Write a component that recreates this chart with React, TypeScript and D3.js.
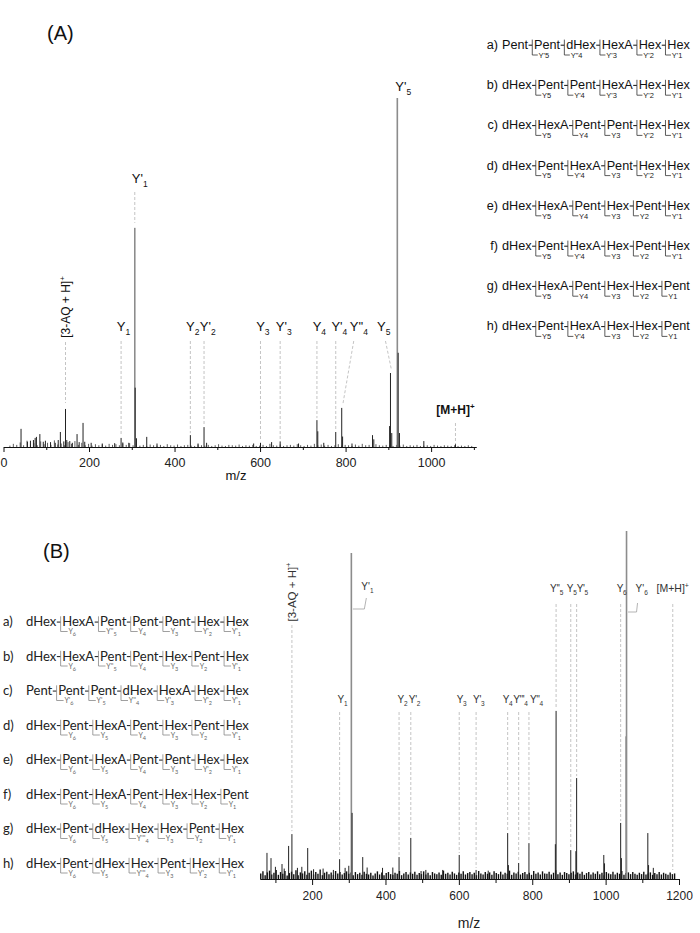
import React, { useEffect, useRef } from "react";
import * as d3 from "d3";

const ARIAL = "'Liberation Sans', Arial, Helvetica, sans-serif";
const LATO = "Lato, 'Liberation Sans', sans-serif";

// ---------- Panel A spectrum: [m/z, relative intensity %] ----------
const peaksA: [number, number][] = [
  [41, 5.2], [56, 1.5], [63, 1.8], [70, 2.0], [74, 2.6], [77, 2.9], [85, 3.7], [93, 1.5], [98, 1.8],
  [110, 1.4], [121, 1.2], [128, 2.0], [133, 4.3], [141, 1.6], [145, 10.9], [148, 2.0], [155, 1.7],
  [161, 1.2], [172, 3.7], [177, 1.4], [186, 6.9], [190, 1.5], [205, 1.2], [231, 1.0], [260, 1.1],
  [275, 2.6], [279, 1.3], [293, 1.2], [307, 62.8], [308, 17], [311, 2.5], [335, 2.9], [359, 1.0],
  [437, 3.4], [455, 1.0], [469, 5.7], [475, 1.2], [585, 1.0], [601, 1.2], [627, 1.4], [647, 1.6],
  [690, 1.0], [733, 7.7], [735, 4.5], [749, 1.2], [777, 4.3], [791, 11.2], [793, 3.0], [815, 1.0],
  [863, 3.4], [866, 2.2], [903, 6.0], [905, 21.2], [908, 4.0], [921, 100], [923, 27], [926, 4.0],
  [983, 1.7], [1057, 0.8],
];
const noiseAStart = 15;
const noiseAStep = 8;
const noiseA: number[] = [
  0.4, 0.9, 0.6, 1.3, 0.5, 1.8, 0.7, 1.1, 0.5, 1.6, 0.8, 1.2, 0.6, 1.9, 0.7, 1.0, 0.5, 1.4, 0.9, 1.7,
  0.6, 1.2, 0.5, 0.9, 0.4, 0.8, 0.5, 0.7, 0.4, 0.9, 0.6, 0.8, 0.5, 1.0, 0.6, 1.1,
  0.5, 0.8, 0.4, 0.6, 0.3, 0.7, 0.5, 0.4, 0.6, 0.3, 0.8, 0.5, 0.4, 0.7, 0.3, 0.5, 0.6, 0.4, 0.3, 0.7,
  0.5, 0.4, 0.6, 0.3, 0.5, 0.8, 0.4, 0.3, 0.6, 0.5, 0.4, 0.7, 0.3, 0.5, 0.4, 0.6, 0.3,
  0.4, 0.6, 0.3, 0.9, 0.5, 0.4, 0.7, 0.3, 0.5, 0.6, 0.4, 0.8, 0.5, 0.3, 0.6, 0.4, 0.9, 0.5, 0.7, 0.4,
  0.6, 0.3, 0.5, 0.8, 0.4, 0.6, 0.5, 0.3, 0.7, 0.4, 0.9, 0.5, 0.6, 0.4, 0.8, 0.5, 0.4, 0.6,
  0.5, 0.3, 0.6, 0.4, 0.7, 0.3, 0.5, 0.4, 0.6, 0.3, 0.4, 0.5, 0.3, 0.6, 0.4, 0.3, 0.5, 0.4, 0.3, 0.5,
  0.3, 0.4, 0.3, 0.5, 0.3,
];
const ticksA = [0, 200, 400, 600, 800, 1000];
const minorTicksA = [100, 300, 500, 700, 900, 1100];

// ---------- Panel B spectrum ----------
const peaksB: [number, number][] = [
  [77, 7.5], [88, 6.0], [100, 3.5], [118, 4.3], [124, 3.0], [136, 9.5], [145, 12.9], [160, 3.2],
  [172, 3.5], [188, 8.9], [204, 2.8], [230, 3.0], [258, 2.6], [275, 5.7], [290, 3.2], [300, 3.8],
  [307, 93.7], [309, 19], [338, 6.3], [350, 3.3], [392, 3.2], [420, 3.3], [437, 6.3], [469, 11.8],
  [497, 2.3], [510, 2.6], [556, 2.6], [601, 6.9], [647, 2.6], [680, 2.4], [733, 13.2], [735, 4.0],
  [763, 4.6], [791, 10.3], [863, 10], [865, 48.3], [905, 8.3], [919, 8.0], [921, 29], [995, 6.9],
  [997, 4.5], [1041, 16.1], [1043, 6.0], [1056, 41], [1057, 100], [1115, 13.2], [1117, 4.0], [1130, 3.2],
];
const noiseBStart = 60;
const noiseBStep = 6;
const noiseB: number[] = [
  1.6, 2.2, 1.1, 1.9, 2.4, 1.3, 1.8, 2.6, 1.2, 2.0,
  1.5, 2.3, 1.0, 1.7, 2.1, 1.4, 2.5, 1.1, 1.9, 1.6,
  2.2, 1.2, 1.8, 2.4, 1.3, 2.0, 1.5, 2.7, 1.1, 1.8,
  2.1, 1.4, 1.9, 1.2, 2.3, 1.6, 2.0, 1.3, 1.7, 2.2,
  1.5, 1.9, 1.1, 2.0, 1.4, 1.8, 1.2, 2.1, 1.5, 1.3,
  1.8, 1.0, 1.6, 2.2, 1.3, 1.9, 1.1, 1.7, 2.0, 1.4,
  1.2, 1.8, 1.5, 2.3, 1.1, 1.6, 2.0, 1.3, 1.9, 1.5,
  2.1, 1.2, 1.7, 1.4, 2.2, 1.3, 1.8, 1.1, 2.0, 1.6,
  1.4, 1.9, 1.2, 2.4, 1.5, 1.8, 1.3, 2.1, 1.6, 1.2,
  1.9, 1.5, 2.2, 1.3, 1.7, 2.0, 1.4, 1.8, 1.1, 2.3,
  1.6, 1.3, 2.0, 1.5, 1.9, 1.2, 2.2, 1.7, 1.4, 2.1,
  1.3, 1.8, 1.5, 2.4, 1.2, 1.9, 1.6, 2.1, 1.3, 1.7,
  2.0, 1.4, 1.8, 1.2, 2.3, 1.5, 1.9, 1.3, 2.2, 1.6,
  1.5, 2.1, 1.3, 1.8, 2.5, 1.4, 1.9, 1.2, 2.0, 1.7,
  1.4, 1.8, 2.2, 1.3, 1.9, 1.5, 2.1, 1.2, 1.7, 2.0,
  1.3, 1.9, 1.5, 2.2, 1.4, 1.8, 1.1, 2.0, 1.6, 1.4,
  2.1, 1.3, 1.8, 1.5, 2.3, 1.2, 1.7, 1.9, 1.4, 2.0,
  1.5, 1.2, 1.8, 1.4, 2.1, 1.3, 1.6, 1.9, 1.2, 1.7,
  1.4, 2.0, 1.3, 1.8, 1.5, 1.2, 1.9, 1.4, 1.6,
];
const ticksB = [200, 400, 600, 800, 1000, 1200];
const minorTicksB = [100, 300, 500, 700, 900, 1100];

// ---------- Fragment annotations ----------
const lowLabelsA = [
  { name: "Y_1", mz: 275 }, { name: "Y_2", mz: 437 }, { name: "Y'_2", mz: 469 },
  { name: "Y_3", mz: 601 }, { name: "Y'_3", mz: 647 }, { name: "Y_4", mz: 733 },
  { name: "Y'_4", mz: 777 },
];
const lowLabelsB = [
  { name: "Y_1", mz: 275 }, { name: "Y_2", mz: 437 }, { name: "Y'_2", mz: 469 },
  { name: "Y_3", mz: 601 }, { name: "Y'_3", mz: 647 }, { name: "Y_4", mz: 733 },
  { name: "Y'''_4", mz: 763 }, { name: "Y''_4", mz: 791 },
];
const highLabelsB = [
  { name: "Y''_5", mz: 865 }, { name: "Y_5", mz: 905 }, { name: "Y'_5", mz: 921 }, { name: "Y_6", mz: 1041 },
];
const precursorMzA = 1057;
const precursorMzB = 1183;
const aqMz = 145;

// ---------- Structures ----------
const lettersAB = ["a)", "b)", "c)", "d)", "e)", "f)", "g)", "h)"];
const seqA = [
  "Pent-Pent-dHex-HexA-Hex-Hex",
  "dHex-Pent-Pent-HexA-Hex-Hex",
  "dHex-HexA-Pent-Pent-Hex-Hex",
  "dHex-Pent-HexA-Pent-Hex-Hex",
  "dHex-HexA-Pent-Hex-Pent-Hex",
  "dHex-Pent-HexA-Hex-Pent-Hex",
  "dHex-HexA-Pent-Hex-Hex-Pent",
  "dHex-Pent-HexA-Hex-Hex-Pent",
];
const ionsA = [
  ["Y'5", "Y\"4", "Y'3", "Y'2", "Y'1"],
  ["Y5", "Y'4", "Y'3", "Y'2", "Y'1"],
  ["Y5", "Y4", "Y3", "Y'2", "Y'1"],
  ["Y5", "Y'4", "Y3", "Y'2", "Y'1"],
  ["Y5", "Y4", "Y3", "Y2", "Y'1"],
  ["Y5", "Y'4", "Y3", "Y2", "Y'1"],
  ["Y5", "Y4", "Y3", "Y2", "Y1"],
  ["Y5", "Y'4", "Y3", "Y2", "Y1"],
];
const seqB = [
  "dHex-HexA-Pent-Pent-Pent-Hex-Hex",
  "dHex-HexA-Pent-Pent-Hex-Pent-Hex",
  "Pent-Pent-Pent-dHex-HexA-Hex-Hex",
  "dHex-Pent-HexA-Pent-Hex-Pent-Hex",
  "dHex-Pent-HexA-Pent-Pent-Hex-Hex",
  "dHex-Pent-HexA-Pent-Hex-Hex-Pent",
  "dHex-Pent-dHex-Hex-Hex-Pent-Hex",
  "dHex-Pent-dHex-Hex-Pent-Hex-Hex",
];
const ionsB = [
  ["Y_6", "Y''_5", "Y_4", "Y_3", "Y'_2", "Y'_1"],
  ["Y_6", "Y''_5", "Y_4", "Y_3", "Y_2", "Y'_1"],
  ["Y'_6", "Y'_5", "Y''_4", "Y'_3", "Y'_2", "Y'_1"],
  ["Y_6", "Y_5", "Y_4", "Y_3", "Y_2", "Y'_1"],
  ["Y_6", "Y_5", "Y_4", "Y_3", "Y'_2", "Y'_1"],
  ["Y_6", "Y_5", "Y_4", "Y_3", "Y_2", "Y_1"],
  ["Y_6", "Y_5", "Y'''_4", "Y_3", "Y_2", "Y'_1"],
  ["Y_6", "Y_5", "Y'''_4", "Y_3", "Y'_2", "Y'_1"],
];

// label nudges (layout only, px relative to the peak position)
const nudgeB: Record<string, number> = {
  "Y_1": -2, "Y_2": -1.5, "Y'_2": -2, "Y_3": -2.5, "Y'_3": -3, "Y_4": -5, "Y'''_4": -5.5, "Y''_4": 1,
  "Y''_5": -6, "Y_5": -4, "Y'_5": 0, "Y_6": -4,
};

// ---------- helpers ----------
let measureCtx: CanvasRenderingContext2D | null = null;
function textWidth(t: string, size: number, family: string) {
  if (!measureCtx && typeof document !== "undefined") {
    measureCtx = document.createElement("canvas").getContext("2d");
  }
  if (!measureCtx) return t.length * size * 0.55;
  measureCtx.font = `${size}px ${family}`;
  return measureCtx.measureText(t).width;
}

function topOf(peaks: [number, number][], mz: number) {
  const near = peaks.filter((p) => Math.abs(p[0] - mz) <= 2);
  return near.length ? d3.max(near, (p) => p[1])! : 0;
}

function Ion({ name, x, y, size, sub, color, family, anchor = "start", weight = "normal", ls = 0 }: any) {
  let base = name, lo: string | null = null, hi: string | null = null;
  if (name.includes("_")) [base, lo] = name.split("_");
  if (name.includes("^")) [base, hi] = name.split("^");
  return (
    <text x={x} y={y} fontSize={size} fill={color} fontFamily={family} textAnchor={anchor} fontWeight={weight}
      letterSpacing={ls}>
      {base}
      {lo !== null && <tspan dy={size * 0.32} fontSize={sub}>{lo}</tspan>}
      {hi !== null && <tspan dy={-size * 0.38} fontSize={sub}>{hi}</tspan>}
    </text>
  );
}

function Axis({ scale, y, major, minor, size, pad, majorLen, minorLen }: any) {
  const ref = useRef<SVGGElement>(null);
  useEffect(() => {
    const g = d3.select(ref.current!);
    g.selectAll("*").remove();
    g.append("g").call(
      d3.axisBottom(scale).tickValues(minor).tickSize(minorLen).tickSizeOuter(0).tickFormat(() => "")
    );
    g.append("g").call(
      d3.axisBottom(scale).tickValues(major).tickSize(majorLen).tickSizeOuter(0).tickPadding(pad).tickFormat(d3.format("d"))
    );
    g.selectAll("path.domain").attr("stroke", "#111").attr("stroke-width", 1.1);
    g.selectAll(".tick line").attr("stroke", "#111").attr("stroke-width", 1);
    g.selectAll("text").attr("font-family", ARIAL).attr("font-size", size).attr("fill", "#222");
  }, [scale, y, major, minor, size, pad, majorLen, minorLen]);
  return <g ref={ref} transform={`translate(0,${y})`} />;
}

function Structures({ seqs, ions, x0, x1, y0, step, family, color, ionSize, ionSub, ionColor, ionFamily,
  letterX, letterAnchor, upF, down, tick, bracketColor, hyF, padAfter }: any) {
  const nb = seqs[0].split("-").length - 1;
  const emSum = d3.sum(seqs[0].split("-"), (w: string) => textWidth(w, 100, family) / 100);
  const size = (x1 - x0 - nb * padAfter) / (emSum + hyF * nb);
  return (
    <g>
      {seqs.map((seq: string, r: number) => {
        const y = y0 + r * step;
        const words = seq.split("-");
        const ws = words.map((w) => textWidth(w, size, family));
        const pos: number[] = [];
        let cx = x0;
        words.forEach((w, i) => {
          pos.push(cx);
          cx += ws[i] + hyF * size + padAfter;
        });
        return (
          <g key={r}>
            <text x={letterX} y={y} fontSize={size} fontFamily={family} fill={color} textAnchor={letterAnchor}>
              {lettersAB[r]}
            </text>
            {words.map((w, i) => (
              <text key={i} x={pos[i]} y={y} fontSize={size} fontFamily={family} fill={color}>{w}</text>
            ))}
            {words.slice(1).map((_, i) => {
              const gs = pos[i] + ws[i];
              const bx = gs + hyF * size + 0.4;
              const hy = y - size * 0.3;
              return (
                <g key={"b" + i}>
                  <line x1={gs + 0.5} x2={bx} y1={hy} y2={hy} stroke={color} strokeWidth={size * 0.08} />
                  <path d={`M${bx},${y - size * upF}V${y + down}H${bx + tick}`} fill="none"
                    stroke={bracketColor} strokeWidth={0.8} />
                  <Ion name={ions[r][i]} x={bx + tick + 0.8} y={y + down + ionSize * 0.38} size={ionSize}
                    sub={ionSub} color={ionColor} family={ionFamily} />
                </g>
              );
            })}
          </g>
        );
      })}
    </g>
  );
}

const DASH = "#bdbdbd";

function Peaks({ peaks, x, y, tall }: any) {
  return (
    <g>
      {peaks.map(([m, v]: [number, number], i: number) => (
        <line key={i} x1={x(m)} x2={x(m)} y1={y(0)} y2={y(v)}
          stroke={v > tall ? "#8c8c8c" : "#222"} strokeWidth={v > tall ? 1.6 : 1} />
      ))}
    </g>
  );
}

export default function App() {
  const xA = d3.scaleLinear().domain([0, 1105]).range([3.5, 476]);
  const yA = d3.scaleLinear().domain([0, 100]).range([447, 98]);
  const xB = d3.scaleLinear().domain([58, 1200]).range([260, 679]);
  const yB = d3.scaleLinear().domain([0, 100]).range([879, 531]);

  const lowRowA = 331;
  const lowRowB = 703;
  const highRowB = 592;

  const noisePtsA = noiseA.map((v, i) => [noiseAStart + i * noiseAStep, v] as [number, number]);
  const noisePtsB = noiseB.map((v, i) => [noiseBStart + i * noiseBStep, v] as [number, number]);

  const peakTopA = (mz: number) => yA(topOf(peaksA, mz));
  const peakTopB = (mz: number) => yB(topOf(peaksB, mz));

  const y4ppX = xA(791), y5X = xA(905);

  return (
    <svg width={700} height={933} style={{ position: "absolute", left: 0, top: 0, background: "#fff" }}
      fontFamily={ARIAL}>
      <rect x={0} y={0} width={700} height={933} fill="#fff" />

      {/* ================= PANEL A ================= */}
      <text x={47} y={40} fontSize={20} fill="#111">(A)</text>

      <g stroke="#333" strokeWidth={0.8}>
        {noisePtsA.map(([m, v], i) => (
          <line key={i} x1={xA(m)} x2={xA(m)} y1={yA(0)} y2={yA(v)} />
        ))}
      </g>
      <Peaks peaks={peaksA} x={xA} y={yA} tall={50} />

      <Axis scale={xA} y={447} major={ticksA} minor={minorTicksA} size={12.5} pad={6} majorLen={5} minorLen={3} />
      <text x={236} y={480} fontSize={13} textAnchor="middle" fill="#111">m/z</text>

      <g stroke={DASH} strokeWidth={0.9} strokeDasharray="3,2" fill="none">
        {lowLabelsA.map((l, i) => (
          <line key={i} x1={xA(l.mz)} x2={xA(l.mz)} y1={lowRowA + 10} y2={peakTopA(l.mz) - 2} />
        ))}
        <line x1={y4ppX + 12} y1={lowRowA + 10} x2={y4ppX + 1} y2={peakTopA(791) - 3} />
        <line x1={y5X - 5} y1={lowRowA + 10} x2={y5X + 1} y2={peakTopA(905) - 3} />
        <line x1={xA(aqMz)} x2={xA(aqMz)} y1={342} y2={peakTopA(aqMz) - 6} />
        <line x1={xA(307)} x2={xA(307)} y1={192} y2={peakTopA(307) - 5} />
        <line x1={xA(precursorMzA)} x2={xA(precursorMzA)} y1={423} y2={444} />
      </g>
      {lowLabelsA.map((l, i) => (
        <Ion key={i} name={l.name} x={xA(l.mz) - 4.3} y={lowRowA} size={13} sub={8.5} color="#111" family={ARIAL} />
      ))}
      <Ion name="Y''_4" x={y4ppX + 8} y={lowRowA} size={13} sub={8.5} color="#111" family={ARIAL} />
      <Ion name="Y_5" x={y5X - 13.5} y={lowRowA} size={13} sub={8.5} color="#111" family={ARIAL} />
      <Ion name="Y'_1" x={xA(307) - 3} y={183} size={13} sub={8.5} color="#111" family={ARIAL} />
      <Ion name="Y'_5" x={xA(921) - 2} y={91} size={13} sub={8.5} color="#111" family={ARIAL} />
      <text transform={`translate(${xA(aqMz) + 4},307) rotate(-90)`} textAnchor="middle" fontSize={12} fill="#111">
        [3-AQ + H]<tspan dy={-5} fontSize={8}>+</tspan>
      </text>
      <Ion name="[M+H]^+" x={xA(precursorMzA)} y={414} size={12} sub={8} color="#111" family={ARIAL}
        anchor="middle" weight="bold" />

      <Structures seqs={seqA} ions={ionsA} x0={502} x1={690} y0={49} step={40.2} family={ARIAL} color="#111"
        ionSize={7.5} ionSub={7.5} ionColor="#222" ionFamily={ARIAL} letterX={498} letterAnchor="end"
        upF={0.74} down={6} tick={5.5} bracketColor="#333" hyF={0.3} padAfter={2.2} />

      {/* ================= PANEL B ================= */}
      <text x={43} y={558} fontSize={20} fill="#111">(B)</text>

      <g stroke="#111" strokeWidth={1.4}>
        {noisePtsB.map(([m, v], i) => (
          <line key={i} x1={xB(m)} x2={xB(m)} y1={yB(0)} y2={yB(v)} />
        ))}
      </g>
      <Peaks peaks={peaksB} x={xB} y={yB} tall={50} />

      <Axis scale={xB} y={879} major={ticksB} minor={minorTicksB} size={12} pad={6} majorLen={6} minorLen={4} />
      <text x={469} y={928} fontSize={14} textAnchor="middle" fill="#222">m/z</text>

      <g stroke={DASH} strokeWidth={0.9} strokeDasharray="3,2" fill="none">
        {lowLabelsB.map((l, i) => (
          <line key={i} x1={xB(l.mz)} x2={xB(l.mz)} y1={lowRowB + 9} y2={peakTopB(l.mz) - 2} />
        ))}
        {highLabelsB.map((l, i) => (
          <line key={i} x1={xB(l.mz)} x2={xB(l.mz)} y1={highRowB + 12} y2={peakTopB(l.mz) - 2} />
        ))}
        <line x1={xB(aqMz)} x2={xB(aqMz)} y1={625} y2={peakTopB(aqMz) - 3} />
        <line x1={xB(precursorMzB)} x2={xB(precursorMzB)} y1={604} y2={870} />
      </g>
      {lowLabelsB.map((l, i) => (
        <Ion key={i} name={l.name} x={xB(l.mz) + (nudgeB[l.name] ?? -3)} y={lowRowB} size={10} sub={6.5}
          color="#333" family={ARIAL} ls={-0.3} />
      ))}
      {highLabelsB.map((l, i) => (
        <Ion key={i} name={l.name} x={xB(l.mz) + (nudgeB[l.name] ?? -3)} y={highRowB} size={10} sub={6.5}
          color="#333" family={ARIAL} ls={-0.3} />
      ))}
      <path d={`M${xB(307) + 15},598L${xB(307) + 13},609H${xB(307) + 1.5}`} fill="none" stroke="#aaa" strokeWidth={0.9} />
      <Ion name="Y'_1" x={xB(307) + 10} y={590} size={10} sub={6.5} color="#333" family={ARIAL} />
      <path d={`M${xB(1057) + 11},603L${xB(1057) + 10},612H${xB(1057) + 1.5}`} fill="none" stroke="#aaa" strokeWidth={0.9} />
      <Ion name="Y'_6" x={xB(1057) + 9} y={highRowB} size={10} sub={6.5} color="#333" family={ARIAL} />
      <Ion name="[M+H]^+" x={xB(precursorMzB)} y={highRowB} size={10.5} sub={7} color="#333" family={ARIAL} anchor="middle" />
      <text transform={`translate(${xB(aqMz) + 4},592) rotate(-90)`} textAnchor="middle" fontSize={11.5} fill="#333">
        [3-AQ + H]<tspan dy={-5} fontSize={7.5}>+</tspan>
      </text>

      <Structures seqs={seqB} ions={ionsB} x0={26} x1={249} y0={626} step={34.5} family={LATO} color="#222"
        ionSize={7} ionSub={5.5} ionColor="#666" ionFamily={LATO} letterX={3} letterAnchor="start"
        upF={0.74} down={5.5} tick={7} bracketColor="#888" hyF={0.3} padAfter={2} />
    </svg>
  );
}
